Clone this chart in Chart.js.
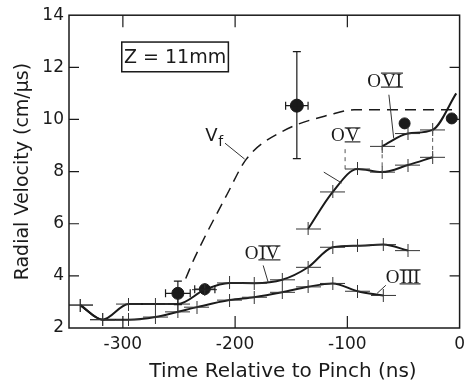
<!DOCTYPE html>
<html lang="en">
<head>
<meta charset="UTF-8">
<title>Radial Velocity vs Time</title>
<script src="https://cdn.jsdelivr.net/npm/chart.js"></script>
<style>
  body { margin: 0; background: #fff; }
</style>
</head>
<body>
<canvas id="velChart" width="471" height="383"></canvas>
<script>
// time relative to pinch (ns) and radial velocity (cm/us)
var oIIITime = [-338, -318, -295, -271, -251, -234, -205, -183, -158, -135, -113, -91, -68];
var oIIIVel  = [2.88, 2.32, 2.32, 2.42, 2.62, 2.80, 3.07, 3.18, 3.37, 3.58, 3.71, 3.41, 3.25];
var oIVTime  = [-338, -318, -295, -271, -251, -227, -205, -183, -158, -135, -113, -91, -68, -46];
var oIVVel   = [2.88, 2.32, 2.92, 2.92, 2.92, 3.47, 3.73, 3.72, 3.85, 4.33, 5.10, 5.16, 5.20, 4.97];
var oVTime   = [-135, -113, -91, -69, -46, -24];
var oVVel    = [5.80, 7.22, 8.10, 7.98, 8.25, 8.55];
var oVITime  = [-69, -46, -24, -3];
var oVIVel   = [8.97, 9.46, 9.60, 11.0];
var vfTime   = [-244, -236, -207, -190, -158, -114, -94, -62, 0];
var vfVel    = [3.9, 4.7, 7.14, 8.48, 9.54, 10.2, 10.37, 10.37, 10.37];
var dotTime  = [-251, -227, -145, -49, -7];
var dotVel   = [3.33, 3.49, 10.53, 9.85, 10.04];
var dotTimeErr = [11, 9, 10, 0, 0];
var dotVelLo = [2.9, null, 8.5, null, null];
var dotVelHi = [3.8, null, 12.6, null, null];
var xTicks = [-300, -200, -100, 0];
var yTicks = [2, 4, 6, 8, 10, 12, 14];

var INK = '#1a1a1a';
var SANS = '"DejaVu Sans"';

// "+" marker, wider than tall like the original crosses
function makeCross(w, h) {
    var c = document.createElement('canvas');
    c.width = w; c.height = h;
    var g = c.getContext('2d');
    g.strokeStyle = '#333';
    g.lineWidth = 1;
    g.beginPath();
    g.moveTo(0, h / 2); g.lineTo(w, h / 2);
    g.moveTo(w / 2, 0); g.lineTo(w / 2, h);
    g.stroke();
    return c;
}
var cross = makeCross(25, 13);

function pts(xs, ys) {
    return xs.map(function(x, i) { return {x: x, y: ys[i]}; });
}

function curve(xs, ys, lastHidden) {
    return {
        data: pts(xs, ys),
        borderColor: INK,
        borderWidth: 2,
        cubicInterpolationMode: 'monotone',
        pointStyle: cross,
        pointRadius: xs.map(function(v, i) { return (lastHidden && i === xs.length - 1) ? 0 : 5; }),
        showLine: true,
        fill: false
    };
}

// frame, inward ticks, error bars, annotations
var decorPlugin = {
    id: 'decor',
    afterDatasetsDraw: function(chart) {
        var ctx = chart.ctx, xs = chart.scales.x, ys = chart.scales.y;
        var a = chart.chartArea;
        ctx.save();
        ctx.strokeStyle = INK;

        // error bars on the filled points
        ctx.lineWidth = 1.2;
        dotTime.forEach(function(t, i) {
            var px = xs.getPixelForValue(t), py = ys.getPixelForValue(dotVel[i]);
            if (dotTimeErr[i]) {
                var l = xs.getPixelForValue(t - dotTimeErr[i]), r = xs.getPixelForValue(t + dotTimeErr[i]);
                ctx.beginPath();
                ctx.moveTo(l, py); ctx.lineTo(r, py);
                ctx.moveTo(l, py - 4); ctx.lineTo(l, py + 4);
                ctx.moveTo(r, py - 4); ctx.lineTo(r, py + 4);
                ctx.stroke();
            }
            if (dotVelLo[i] !== null) {
                var lo = ys.getPixelForValue(dotVelLo[i]), hi = ys.getPixelForValue(dotVelHi[i]);
                ctx.beginPath();
                ctx.moveTo(px, lo); ctx.lineTo(px, hi);
                ctx.moveTo(px - 4, lo); ctx.lineTo(px + 4, lo);
                ctx.moveTo(px - 4, hi); ctx.lineTo(px + 4, hi);
                ctx.stroke();
            }
        });

        // dashed guide lines between the OVI and OV points
        ctx.lineWidth = 1;
        ctx.strokeStyle = '#555';
        ctx.setLineDash([4, 4]);
        [[-24, 9.6, 8.55], [-69, 8.97, 7.98], [-102, 8.86, 7.94]].forEach(function(g) {
            var gx = xs.getPixelForValue(g[0]);
            ctx.beginPath();
            ctx.moveTo(gx, ys.getPixelForValue(g[1]));
            ctx.lineTo(gx, ys.getPixelForValue(g[2]));
            ctx.stroke();
        });
        ctx.setLineDash([]);

        // leader lines from the labels
        ctx.strokeStyle = '#333';
        [[-209, 9.09, -191.5, 8.48], [-121, 7.98, -105, 7.56], [-63, 10.95, -58.7, 9.28],
         [-175, 4.4, -170.5, 3.75], [-65.7, 3.64, -73.5, 3.33]].forEach(function(s) {
            ctx.beginPath();
            ctx.moveTo(xs.getPixelForValue(s[0]), ys.getPixelForValue(s[1]));
            ctx.lineTo(xs.getPixelForValue(s[2]), ys.getPixelForValue(s[3]));
            ctx.stroke();
        });

        // ion labels with the barred roman numerals
        ctx.fillStyle = INK;
        ctx.textBaseline = 'alphabetic';
        ctx.textAlign = 'left';
        ctx.font = '19px "Liberation Serif"';
        function ion(num, t, v) {
            var x = xs.getPixelForValue(t), y = ys.getPixelForValue(v);
            ctx.fillText('O', x, y);
            var x2 = x + ctx.measureText('O').width + 1;
            ctx.fillText(num, x2, y);
            var w = ctx.measureText(num).width;
            ctx.lineWidth = 1.3;
            ctx.beginPath();
            ctx.moveTo(x2 - 1, y - 13.5); ctx.lineTo(x2 + w + 1, y - 13.5);
            ctx.moveTo(x2 - 1, y + 0.5); ctx.lineTo(x2 + w + 1, y + 0.5);
            ctx.stroke();
        }
        ion('VI', -82.3, 11.26);
        ion('V', -114.6, 9.16);
        ion('IV', -191.5, 4.63);
        ion('III', -65.7, 3.71);

        // V_f label
        ctx.font = '18px ' + SANS;
        var vx = xs.getPixelForValue(-226.5), vy = ys.getPixelForValue(9.16);
        ctx.fillText('V', vx, vy);
        ctx.font = '14px ' + SANS;
        ctx.fillText('f', vx + 13, vy + 5);

        // Z = 11mm box
        var bl = xs.getPixelForValue(-301), br = xs.getPixelForValue(-206);
        var bt = ys.getPixelForValue(12.97), bb = ys.getPixelForValue(11.83);
        ctx.lineWidth = 1.5;
        ctx.strokeStyle = INK;
        ctx.strokeRect(bl, bt, br - bl, bb - bt);
        ctx.font = '19px ' + SANS;
        ctx.textAlign = 'center';
        ctx.textBaseline = 'middle';
        ctx.fillText('Z = 11mm', (bl + br) / 2, (bt + bb) / 2 + 1);

        // frame and inward ticks
        ctx.lineWidth = 1.5;
        ctx.strokeRect(a.left, a.top, a.right - a.left, a.bottom - a.top);
        ctx.lineWidth = 1.2;
        ctx.beginPath();
        yTicks.forEach(function(v) {
            if (v === 2 || v === 14) return;
            var py = ys.getPixelForValue(v);
            ctx.moveTo(a.left, py); ctx.lineTo(a.left + 10, py);
            ctx.moveTo(a.right, py); ctx.lineTo(a.right - 10, py);
        });
        xTicks.forEach(function(t) {
            if (t === 0) return;
            var px = xs.getPixelForValue(t);
            ctx.moveTo(px, a.top); ctx.lineTo(px, a.top + 12);
            ctx.moveTo(px, a.bottom); ctx.lineTo(px, a.bottom - 12);
        });
        ctx.stroke();

        // x axis title, sits right of centre in the original
        ctx.font = '20px ' + SANS;
        ctx.textAlign = 'center';
        ctx.textBaseline = 'middle';
        ctx.fillText('Time Relative to Pinch (ns)', 283, 372);
        ctx.restore();
    }
};

var ctx = document.getElementById('velChart').getContext('2d');
var chart = new Chart(ctx, {
    type: 'scatter',
    data: {
        datasets: [
            curve(oIIITime, oIIIVel),
            curve(oIVTime, oIVVel),
            curve(oVTime, oVVel),
            curve(oVITime, oVIVel, true),
            {
                data: pts(vfTime, vfVel),
                borderColor: INK,
                borderWidth: 1.5,
                borderDash: [11, 7],
                cubicInterpolationMode: 'monotone',
                pointRadius: 0,
                showLine: true,
                fill: false
            },
            {
                data: pts(dotTime, dotVel),
                backgroundColor: INK,
                borderColor: INK,
                pointRadius: [6, 5.5, 6.5, 5.5, 5.5],
                pointStyle: 'circle',
                showLine: false
            }
        ]
    },
    options: {
        responsive: false,
        animation: false,
        devicePixelRatio: 1,
        layout: { padding: { top: 13, right: 5, left: 0, bottom: 0 } },
        plugins: { legend: { display: false }, tooltip: { enabled: false } },
        scales: {
            x: {
                type: 'linear',
                min: -348,
                max: 0,
                afterBuildTicks: function(s) { s.ticks = xTicks.map(function(v) { return {value: v}; }); },
                afterFit: function(s) { s.height = 55; },
                grid: { display: false, drawTicks: false },
                border: { display: false },
                ticks: { color: INK, padding: 6, font: { family: 'DejaVu Sans', size: 17 } }
            },
            y: {
                min: 2,
                max: 14,
                afterBuildTicks: function(s) { s.ticks = yTicks.map(function(v) { return {value: v}; }); },
                afterFit: function(s) { s.width = 69; },
                grid: { display: false, drawTicks: false },
                border: { display: false },
                ticks: { color: INK, padding: 5, font: { family: 'DejaVu Sans', size: 17 } },
                title: {
                    display: true,
                    text: 'Radial Velocity (cm/\u03bcs)',
                    color: INK,
                    padding: { top: 12, bottom: 0 },
                    font: { family: 'DejaVu Sans', size: 19 }
                }
            }
        }
    },
    plugins: [decorPlugin]
});
</script>
</body>
</html>
